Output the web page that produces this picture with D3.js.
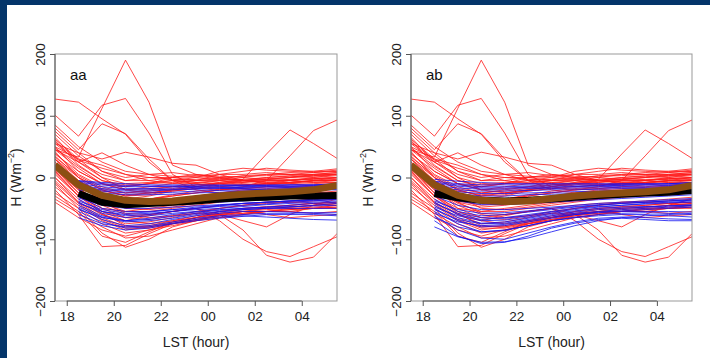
<!DOCTYPE html>
<html>
<head>
<meta charset="utf-8">
<script src="https://cdn.jsdelivr.net/npm/d3@7"></script>
<style>
  html, body { margin: 0; padding: 0; background: #fff; }
  svg { display: block; font-family: "Liberation Sans", Arial, sans-serif; }
</style>
</head>
<body>
<script>
// hours (LST), 17.5 .. 29.5 = 17:30 .. 05:30 next day
const hours = [17.5, 18.5, 19.5, 20.5, 21.5, 22.5, 23.5, 24.5, 25.5, 26.5, 27.5, 28.5, 29.5];
const hourTicks = [18, 20, 22, 24, 26, 28];
const hourLabels = ["18", "20", "22", "00", "02", "04"];
const hTicks = [-200, -100, 0, 100, 200];
const panelNames = ["aa", "ab"];

// red runs (same in both panels)
const redRuns = [
  [45, 33, 112, 190, 122, 20, 5, 0, -5, -8, -5, 0, 5],
  [127, 122, 95, 70, 25, -5, -10, -5, -10, -12, -8, -5, -3],
  [101, 67, 117, 128, 72, 5, -15, -20, -18, -15, -12, -10, -8],
  [55, 40, 30, 41, 33, 23, 20, 5, -5, -10, -8, -5, 0],
  [80, 45, 87, 71, 30, -5, -20, -25, -22, -20, -18, -15, -10],
  [30, 0, -20, -30, -25, -20, -15, -8, -3, 38, 77, 55, 31],
  [20, -10, -30, -40, -35, -30, -25, -20, -15, -5, 35, 76, 93],
  [10, -30, -55, -65, -60, -55, -50, -60, -85, -126, -137, -129, -91],
  [0, -40, -60, -70, -62, -55, -50, -70, -100, -120, -128, -112, -96],
  [-20, -60, -112, -110, -91, -75, -70, -65, -60, -55, -55, -50, -45],
  [-10, -50, -90, -113, -100, -80, -70, -60, -58, -55, -50, -50, -48],
  [-30, -55, -95, -105, -88, -72, -65, -60, -55, -52, -50, -48, -45],
  [-40, -65, -85, -95, -85, -75, -65, -55, -50, -48, -45, -42, -40],
  [15, -20, -45, -60, -65, -62, -58, -60, -70, -80, -60, -45, -35],
  [60, 20, -5, -15, -10, -5, 0, 10, 15, 12, 10, 8, 12],
  [50, 10, -10, -20, -15, -10, -5, 5, 10, 15, 12, 10, 14],
  [70, 35, 10, -5, -5, 0, 2, 5, 5, 8, 5, 3, 5],
  [40, 5, -15, -25, -20, -15, -8, -5, 0, 5, 8, 10, 10],
  [35, 0, -20, -30, -28, -20, -15, -10, -5, 0, 2, 0, 3],
  [65, 25, 0, -10, -8, -5, -3, 0, 2, 3, 5, 5, 8],
  [25, -5, -25, -35, -30, -22, -18, -12, -8, -5, -3, -2, 0],
  [45, 15, -10, -20, -18, -15, -12, -10, -8, -5, -5, -3, -2],
  [55, 25, 5, -5, 0, 0, -5, -3, -5, -8, -10, -5, -5],
  [30, -5, -30, -38, -35, -28, -22, -18, -15, -12, -10, -8, -8],
  [20, -15, -35, -40, -35, -30, -25, -20, -18, -15, -15, -12, -10],
  [50, 30, 20, 5, -5, -10, -10, -15, -12, -10, -5, -8, -5],
  [75, 40, 10, 0, 5, 8, 3, 0, -5, -3, 0, 5, 8],
  [10, -25, -40, -48, -45, -40, -35, -30, -25, -22, -20, -18, -15],
  [5, -30, -50, -55, -50, -45, -40, -35, -30, -28, -25, -25, -22],
  [38, 10, -10, -15, -10, 0, 5, 2, 0, -3, -5, -2, 0],
  [0, -35, -60, -75, -72, -65, -58, -50, -45, -42, -40, -38, -35],
  [-5, -40, -65, -80, -78, -70, -62, -55, -50, -47, -45, -42, -40],
  [15, -25, -55, -70, -75, -70, -65, -58, -52, -50, -48, -45, -42],
  [-15, -45, -70, -85, -80, -72, -65, -58, -55, -55, -55, -58, -55],
  [25, -15, -50, -65, -68, -62, -55, -50, -45, -40, -38, -35, -32],
  [-25, -50, -75, -90, -85, -78, -70, -62, -55, -50, -48, -45, -42],
  [8, -30, -58, -78, -80, -74, -68, -60, -55, -60, -65, -62, -60],
  [30, -10, -40, -58, -60, -55, -50, -45, -42, -40, -40, -42, -45],
  [42, 0, -30, -50, -52, -48, -42, -38, -35, -32, -30, -28, -25],
  [-35, -58, -80, -98, -95, -85, -75, -65, -60, -55, -52, -50, -48],
  [48, 18, -5, -12, -10, -8, -5, -2, 3, 5, 5, 8, 10],
  [22, -8, -22, -28, -25, -20, -15, -10, -6, -3, 0, 2, 5],
  [33, 3, -18, -25, -22, -18, -12, -8, -5, -2, 0, 3, 6],
  [58, 28, 15, 5, 0, -3, -5, -5, -3, 0, 3, 5, 5],
  [12, -20, -38, -45, -42, -36, -30, -25, -20, -18, -16, -14, -12],
  [85, 50, 25, 10, 5, 2, 0, -2, -4, -6, -4, -2, 0],
  [45, 25, 40, 20, 5, -5, -8, -10, -12, -10, -8, -5, -5],
  [18, -18, -42, -55, -55, -50, -45, -40, -35, -30, -28, -26, -24],
  [-8, -42, -68, -82, -82, -75, -68, -62, -58, -55, -52, -50, -50],
  [62, 30, 0, -20, -25, -22, -18, -15, -12, -10, -8, -6, -4]
];

// blue runs, panel aa (start at 18.5)
const blueRunsA = [
  [null, -5, -8, -10, -12, -12, -12, -12, -12, -12, -12, -12, -12],
  [null, -8, -12, -15, -15, -14, -14, -13, -13, -13, -12, -12, -10],
  [null, -10, -15, -18, -18, -17, -16, -15, -15, -14, -14, -13, -12],
  [null, -12, -18, -20, -20, -19, -18, -17, -16, -15, -15, -15, -14],
  [null, -15, -20, -22, -22, -20, -19, -18, -17, -17, -16, -16, -15],
  [null, -18, -22, -25, -25, -24, -22, -21, -20, -19, -18, -18, -17],
  [null, -20, -25, -28, -28, -27, -25, -24, -22, -21, -20, -20, -19],
  [null, -6, -10, -13, -14, -14, -15, -16, -18, -20, -20, -20, -20],
  [null, -30, -50, -55, -55, -52, -50, -47, -45, -43, -40, -38, -35],
  [null, -35, -55, -60, -58, -55, -52, -50, -47, -44, -42, -40, -38],
  [null, -40, -58, -65, -62, -58, -55, -52, -50, -48, -45, -42, -40],
  [null, -45, -62, -70, -68, -63, -58, -55, -52, -50, -48, -45, -42],
  [null, -50, -68, -78, -75, -68, -62, -58, -55, -55, -56, -58, -60],
  [null, -55, -72, -82, -80, -74, -68, -64, -62, -64, -66, -68, -69],
  [null, -38, -52, -58, -56, -52, -48, -45, -42, -40, -38, -36, -34],
  [null, -42, -55, -62, -60, -55, -50, -46, -42, -40, -38, -37, -36],
  [null, -48, -64, -72, -70, -66, -60, -56, -52, -50, -50, -50, -50],
  [null, -60, -75, -80, -78, -72, -66, -62, -60, -58, -58, -57, -57],
  [null, -33, -45, -50, -50, -48, -46, -44, -42, -40, -38, -35, -32],
  [null, -28, -40, -45, -45, -43, -41, -40, -38, -36, -34, -32, -30],
  [null, -52, -65, -70, -66, -60, -56, -53, -50, -48, -47, -46, -45],
  [null, -65, -78, -85, -82, -75, -70, -66, -63, -60, -60, -60, -62]
];

// blue runs, panel ab
const blueRunsB = [
  [null, -3, -6, -8, -10, -10, -10, -10, -10, -10, -10, -10, -8],
  [null, -6, -10, -12, -12, -12, -12, -12, -12, -11, -11, -10, -9],
  [null, -8, -12, -15, -15, -14, -14, -14, -13, -13, -12, -12, -11],
  [null, -10, -14, -17, -17, -16, -16, -15, -15, -14, -14, -13, -12],
  [null, -13, -17, -19, -19, -18, -18, -17, -17, -16, -16, -15, -14],
  [null, -15, -20, -22, -22, -21, -20, -20, -19, -18, -18, -17, -16],
  [null, -18, -23, -26, -26, -25, -24, -23, -22, -21, -20, -19, -18],
  [null, -20, -26, -30, -30, -28, -27, -26, -25, -24, -23, -22, -20],
  [null, -35, -55, -62, -60, -56, -52, -48, -45, -42, -40, -38, -36],
  [null, -40, -60, -68, -65, -60, -55, -50, -47, -45, -43, -41, -40],
  [null, -45, -65, -74, -72, -66, -60, -56, -52, -50, -48, -46, -44],
  [null, -50, -70, -80, -78, -72, -66, -60, -56, -54, -52, -50, -48],
  [null, -55, -75, -88, -86, -78, -70, -64, -60, -58, -57, -58, -60],
  [null, -62, -85, -98, -100, -90, -80, -72, -66, -64, -65, -67, -68],
  [null, -70, -95, -107, -105, -95, -82, -74, -68, -66, -68, -70, -70],
  [null, -80, -96, -105, -104, -98, -88, -78, -70, -65, -62, -60, -58],
  [null, -30, -45, -52, -52, -50, -48, -45, -42, -40, -38, -36, -34],
  [null, -38, -52, -58, -57, -54, -50, -47, -44, -42, -40, -38, -37],
  [null, -48, -62, -70, -69, -64, -58, -54, -50, -48, -47, -46, -45],
  [null, -58, -72, -78, -76, -70, -64, -60, -57, -55, -55, -55, -56],
  [null, -25, -38, -44, -44, -42, -40, -38, -36, -34, -32, -30, -28],
  [null, -65, -80, -88, -85, -78, -70, -65, -62, -60, -60, -62, -64],
  [null, -42, -58, -65, -66, -62, -56, -52, -48, -45, -42, -40, -38],
  [null, -52, -68, -75, -74, -68, -62, -58, -55, -52, -50, -48, -46]
];

// thick mean curves
const blackMeanA = [null, -26, -40, -44, -42, -40, -38, -35, -33, -32, -30, -30, -29];
const blackMeanB = [null, -26, -33, -37, -38, -37, -35, -32, -29, -27, -25, -24, -21];
const brownMean = [20, -12, -29, -37, -39, -38, -34, -30, -27, -25, -23, -20, -13];

const W = 710, H = 358;
const svg = d3.select("body").append("svg").attr("width", W).attr("height", H);
svg.append("rect").attr("width", W).attr("height", H).attr("fill", "#fff");

// navy frame (top and left)
svg.append("rect").attr("x", 0).attr("y", 0).attr("width", W).attr("height", 5).attr("fill", "#04356a");
svg.append("rect").attr("x", 0).attr("y", 0).attr("width", 7).attr("height", H).attr("fill", "#04356a");

const panels = [
  { name: panelNames[0], left: 55, right: 337, blue: blueRunsA, black: blackMeanA, titleX: 16 },
  { name: panelNames[1], left: 411, right: 692, blue: blueRunsB, black: blackMeanB, titleX: 368 }
];
const plotTop = 54, plotBottom = 301;

panels.forEach(p => {
  const x = d3.scaleLinear().domain([17.5, 29.5]).range([p.left, p.right]);
  const y = d3.scaleLinear().domain([-200, 200]).range([plotBottom, plotTop]);
  const g = svg.append("g");

  const line = d3.line()
    .defined(d => d != null)
    .x((d, i) => x(hours[i]))
    .y(d => y(d));

  const clipId = "clip-" + p.name;
  svg.append("clipPath").attr("id", clipId)
    .append("rect").attr("x", p.left).attr("y", plotTop)
    .attr("width", p.right - p.left).attr("height", plotBottom - plotTop);

  const plot = g.append("g").attr("clip-path", `url(#${clipId})`);

  plot.selectAll(".red").data(redRuns).enter().append("path")
    .attr("d", line).attr("fill", "none")
    .attr("stroke", "#ff1a1a").attr("stroke-opacity", 0.8).attr("stroke-width", 1);

  plot.selectAll(".blue").data(p.blue).enter().append("path")
    .attr("d", line).attr("fill", "none")
    .attr("stroke", "#1010f0").attr("stroke-opacity", 0.8).attr("stroke-width", 1);

  plot.append("path").attr("d", line(p.black)).attr("fill", "none")
    .attr("stroke", "#000").attr("stroke-width", 7).attr("stroke-linejoin", "round");
  plot.append("path").attr("d", line(brownMean)).attr("fill", "none")
    .attr("stroke", "#8b4f12").attr("stroke-width", 7).attr("stroke-linejoin", "round");

  // box
  g.append("rect").attr("x", p.left).attr("y", plotTop)
    .attr("width", p.right - p.left).attr("height", plotBottom - plotTop)
    .attr("fill", "none").attr("stroke", "#999").attr("stroke-width", 1);

  // x axis
  const xa = g.append("g").attr("transform", `translate(0,${plotBottom})`)
    .call(d3.axisBottom(x).tickValues(hourTicks)
      .tickFormat((d, i) => hourLabels[i]).tickSize(5).tickPadding(5).tickSizeOuter(0));
  xa.select(".domain").remove();
  xa.append("line").attr("x1", x(hourTicks[0])).attr("x2", x(hourTicks[hourTicks.length - 1]))
    .attr("stroke", "#555");
  xa.selectAll(".tick line").attr("stroke", "#555");
  xa.selectAll("text").attr("font-size", 13.5).attr("fill", "#222")
    .attr("font-family", "Liberation Sans, Arial, sans-serif");

  // y axis
  const ya = g.append("g").attr("transform", `translate(${p.left},0)`)
    .call(d3.axisLeft(y).tickValues(hTicks).tickSize(5).tickSizeOuter(0).tickFormat(d => d3.format("d")(d).replace("-", "\u2212")));
  ya.select(".domain").remove();
  ya.append("line").attr("y1", y(-200)).attr("y2", y(200)).attr("stroke", "#555");
  ya.selectAll(".tick line").attr("stroke", "#555");
  ya.selectAll("text")
    .attr("font-size", 13.5).attr("fill", "#222")
    .attr("font-family", "Liberation Sans, Arial, sans-serif")
    .attr("text-anchor", "middle")
    .attr("x", 0).attr("dy", null)
    .attr("transform", "translate(-15,0) rotate(-90)")
    .attr("y", 0).attr("dominant-baseline", "central");

  // x title
  g.append("text").attr("x", (p.left + p.right) / 2).attr("y", 347)
    .attr("text-anchor", "middle").attr("font-size", 14).attr("fill", "#222")
    .text("LST (hour)");

  // y title
  const yt = g.append("text")
    .attr("transform", `translate(${p.titleX},${(plotTop + plotBottom) / 2}) rotate(-90)`)
    .attr("text-anchor", "middle").attr("dominant-baseline", "central")
    .attr("font-size", 14).attr("fill", "#222");
  yt.append("tspan").text("H (Wm");
  yt.append("tspan").attr("font-size", 9).attr("dy", -5).text("\u22122");
  yt.append("tspan").attr("dy", 5).text(")");

  // panel tag
  g.append("text").attr("x", p.left + 15).attr("y", 80)
    .attr("font-size", 15).attr("fill", "#111").text(p.name);
});
</script>
</body>
</html>
